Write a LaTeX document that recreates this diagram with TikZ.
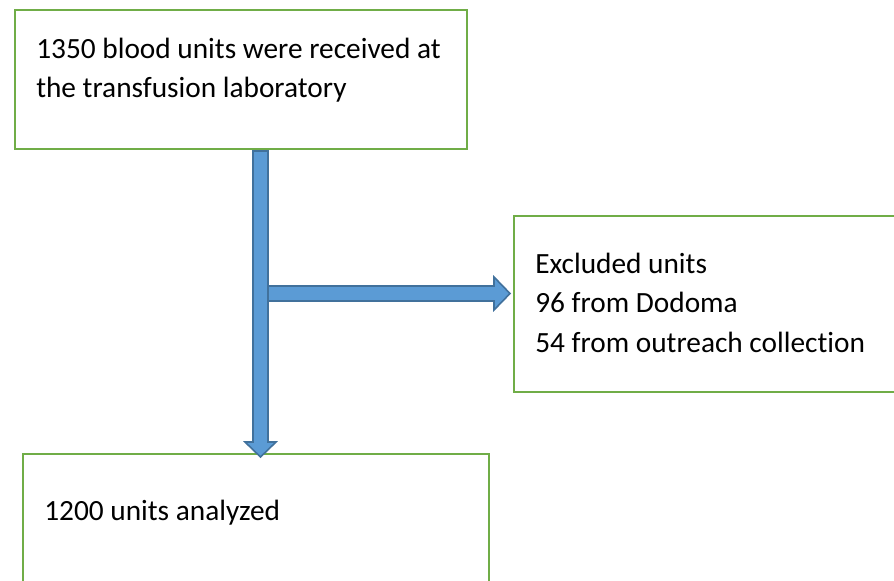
\documentclass[tikz,border=0pt]{standalone}
\usepackage{fontspec}
\setmainfont[Ligatures=NoCommon]{Carlito}
\usetikzlibrary{calc}
\definecolor{boxgreen}{HTML}{70AD47}
\definecolor{arrowfill}{HTML}{5B9BD5}
\definecolor{arrowline}{HTML}{41719C}
\tikzset{
  flowbox/.style={draw=boxgreen, line width=1.6pt, fill=white, rectangle, inner sep=0pt, anchor=north west},
  txt/.style={anchor=base west, inner sep=0pt, font=\fontsize{22pt}{26pt}\selectfont},
  blockarrow/.style={fill=arrowfill, draw=arrowline, line width=1.2pt, line join=miter}
}
\begin{document}
\begin{tikzpicture}[x=0.75pt,y=-0.75pt]
\useasboundingbox (0,0) rectangle (894,581);
\clip (0,0) rectangle (894,581);
\fill[white] (0,0) rectangle (894,581);
% boxes
\node[flowbox, minimum width=339pt, minimum height=104.25pt] (top) at (14,9) {};
\node[flowbox, minimum width=290.25pt, minimum height=132pt] (excl) at (513,215) {};
\node[flowbox, minimum width=349.5pt, minimum height=110.25pt] (anal) at (22,453) {};
% texts
\node[txt] (t1) at (36,59) {1350 blood units were received at};
\node[txt] (t2) at (36,98) {the transfusion laboratory};
\node[txt] (e1) at (535,274) {Excluded units};
\node[txt] (e2) at (535,313) {96 from Dodoma};
\node[txt] (e3) at (535,353) {54 from outreach collection};
\node[txt] (a1) at (44,520) {1200 units analyzed};
% arrow coordinates
\coordinate (vtop) at (260.5,151);
\coordinate (vtip) at (260.5,457);
\coordinate (hstart) at (266,293.5);
\coordinate (htip) at (510,293.5);
% horizontal arrow
\draw[blockarrow] ($(hstart)+(0,-7.5)$) -- ($(htip)+(-16,-7.5)$) -- ($(htip)+(-16,-16.5)$) -- (htip)
  -- ($(htip)+(-16,16.5)$) -- ($(htip)+(-16,7.5)$) -- ($(hstart)+(0,7.5)$) -- cycle;
% vertical arrow
\draw[blockarrow] ($(vtop)+(-7.5,0)$) -- ($(vtop)+(7.5,0)$) -- ($(vtip)+(7.5,-15)$) -- ($(vtip)+(15.5,-15)$)
  -- (vtip) -- ($(vtip)+(-15.5,-15)$) -- ($(vtip)+(-7.5,-15)$) -- cycle;
\end{tikzpicture}
\end{document}
